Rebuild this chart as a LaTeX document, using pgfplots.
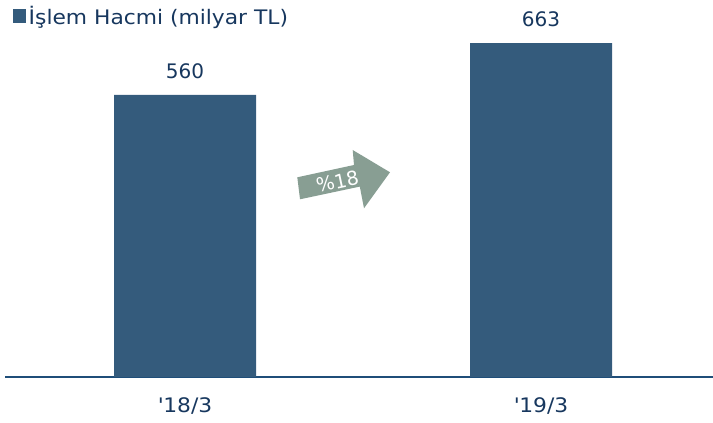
\documentclass[border=0pt]{standalone}
\usepackage{pgfplots}
\pgfplotsset{compat=1.18}
\usepackage{fontspec}
\setmainfont{DejaVu Sans}
\newfontfamily\widefont{DejaVu Sans}[FakeStretch=1.09]
\definecolor{barcol}{HTML}{345B7C}
\definecolor{txtcol}{HTML}{17375E}
\definecolor{axcol}{HTML}{1F4E79}
\definecolor{arrcol}{HTML}{889E93}
\begin{document}
\begin{tikzpicture}[x=0.75pt,y=0.75pt]
\useasboundingbox (0,0) rectangle (713,423);
\begin{axis}[
  at={(3.75pt,34.5pt)}, anchor=south west,
  scale only axis, width=531pt, height=279.5pt,
  xmin=-0.5056, xmax=1.483, ymin=0, ymax=740,
  axis x line*=bottom, axis y line=none,
  axis line style={draw=axcol, line width=1.5pt},
  xtick={0,1}, xticklabels={\textquotesingle18/3,\textquotesingle19/3},
  major tick length=0pt,
  ytick=\empty,
  xticklabel style={font=\widefont\fontsize{15}{18}\selectfont, text=txtcol, inner sep=0pt, anchor=north, yshift=-15.5pt},
  ybar, bar width=106.5pt, bar shift=0pt,
  /pgf/number format/assume math mode=true,
  nodes near coords,
  nodes near coords style={font=\fontsize{15}{18}\selectfont, text=txtcol, anchor=south, inner sep=0pt, yshift=12pt},
  legend style={at={(0.011,1.003)}, anchor=north west, draw=none, fill=none, inner sep=0pt,
    font=\widefont\fontsize{15}{18}\selectfont, text=txtcol},
  legend image code/.code={\fill[barcol] (0pt,-5.3pt) rectangle (9.75pt,5.7pt);},
  clip=false,
]
\addplot[fill=barcol, draw=none] coordinates {(0,560) (1,663)};
\addlegendentry{İşlem Hacmi (milyar TL)}
\end{axis}
\fill[arrcol] (297.3,245.7) -- (354,258) -- (352.7,273) -- (390,250.7) -- (364,214.7) -- (359.8,236.4) -- (300,223.7) -- cycle;
\node[text=white, font=\fontsize{14.5}{16}\selectfont, rotate=12, inner sep=0pt] at (337.5,241.5) {\%18};
\end{tikzpicture}
\end{document}
